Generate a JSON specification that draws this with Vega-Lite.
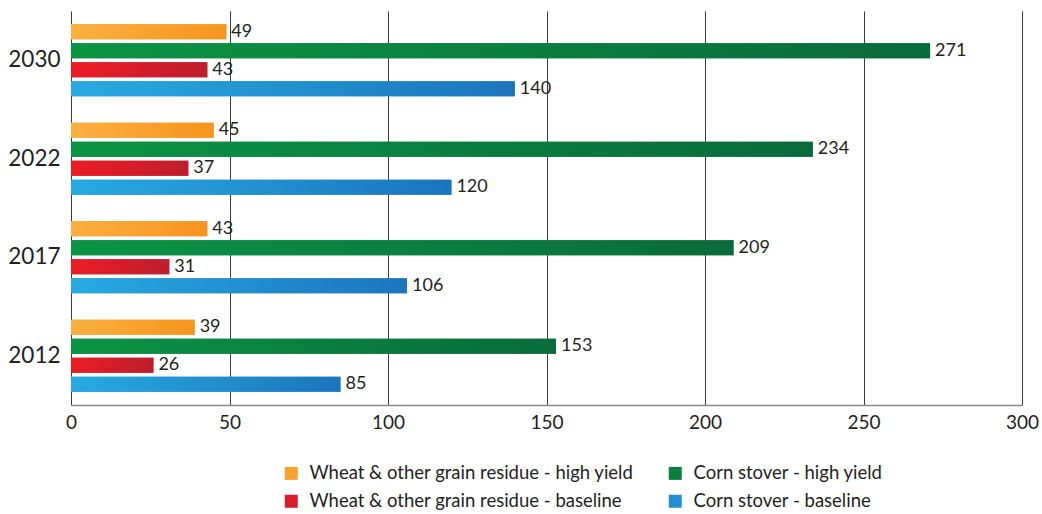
{
  "$schema": "https://vega.github.io/schema/vega-lite/v6.json",
  "width": 951,
  "height": 394,
  "autosize": "none",
  "padding": {"left": 71, "top": 11, "right": 20, "bottom": 109},
  "background": "white",
  "config": {
    "font": "Lato",
    "view": {"stroke": null}
  },
  "data": {
    "values": [
      {"year": "2030", "series": "Wheat & other grain residue - high yield", "value": 49},
      {"year": "2030", "series": "Corn stover - high yield", "value": 271},
      {"year": "2030", "series": "Wheat & other grain residue - baseline", "value": 43},
      {"year": "2030", "series": "Corn stover - baseline", "value": 140},
      {"year": "2022", "series": "Wheat & other grain residue - high yield", "value": 45},
      {"year": "2022", "series": "Corn stover - high yield", "value": 234},
      {"year": "2022", "series": "Wheat & other grain residue - baseline", "value": 37},
      {"year": "2022", "series": "Corn stover - baseline", "value": 120},
      {"year": "2017", "series": "Wheat & other grain residue - high yield", "value": 43},
      {"year": "2017", "series": "Corn stover - high yield", "value": 209},
      {"year": "2017", "series": "Wheat & other grain residue - baseline", "value": 31},
      {"year": "2017", "series": "Corn stover - baseline", "value": 106},
      {"year": "2012", "series": "Wheat & other grain residue - high yield", "value": 39},
      {"year": "2012", "series": "Corn stover - high yield", "value": 153},
      {"year": "2012", "series": "Wheat & other grain residue - baseline", "value": 26},
      {"year": "2012", "series": "Corn stover - baseline", "value": 85}
    ]
  },
  "encoding": {
    "y": {
      "field": "year", "type": "nominal",
      "sort": ["2030", "2022", "2017", "2012"],
      "scale": {"paddingInner": 0.24, "paddingOuter": 0.12},
      "axis": {"title": null, "ticks": false, "domain": false, "labelFontSize": 22.5, "labelColor": "#231f20", "labelPadding": 11, "grid": false}
    },
    "yOffset": {
      "field": "series", "type": "nominal",
      "scale": {"domain": ["Wheat & other grain residue - high yield", "Corn stover - high yield", "Wheat & other grain residue - baseline", "Corn stover - baseline"], "paddingInner": 0.22, "paddingOuter": 0.08}
    },
    "x": {
      "field": "value", "type": "quantitative",
      "scale": {"domain": [0, 300], "nice": false},
      "axis": {"title": null, "values": [0, 50, 100, 150, 200, 250, 300], "ticks": false, "labelFontSize": 19, "labelColor": "#231f20", "labelPadding": 8, "grid": true, "gridColor": "#3a3a3a", "gridWidth": 1, "gridOpacity": 1, "domainColor": "#888888", "domainWidth": 1.5, "labelFlush": false}
    }
  },
  "layer": [
    {
      "mark": {"type": "bar"},
      "encoding": {
        "color": {
          "field": "series", "type": "nominal",
          "scale": {"domain": ["Wheat & other grain residue - high yield", "Corn stover - high yield", "Wheat & other grain residue - baseline", "Corn stover - baseline"], "range": ["#f9a12e", "#0a7f3f", "#d81f29", "#2290d2"]},
          "legend": {"title": null, "orient": "none", "legendX": 211, "legendY": 453, "direction": "horizontal", "columns": 2, "symbolType": "square", "symbolSize": 169, "labelFontSize": 18.5, "labelColor": "#231f20", "rowPadding": 9, "columnPadding": 32, "labelOffset": 9, "symbolStrokeWidth": 0, "labelLimit": 500}
        }
      }
    },
    {
      "transform": [{"filter": "datum.series == 'Wheat & other grain residue - high yield'"}],
      "mark": {"type": "bar", "fill": {"gradient": "linear", "x1": 0, "y1": 0, "x2": 1, "y2": 0, "stops": [{"offset": 0, "color": "#fbb040"}, {"offset": 1, "color": "#f7941d"}]}},
      "encoding": {}
    },
    {
      "transform": [{"filter": "datum.series == 'Corn stover - high yield'"}],
      "mark": {"type": "bar", "fill": {"gradient": "linear", "x1": 0, "y1": 0, "x2": 1, "y2": 0, "stops": [{"offset": 0, "color": "#0b9444"}, {"offset": 1, "color": "#0a6b3a"}]}},
      "encoding": {}
    },
    {
      "transform": [{"filter": "datum.series == 'Wheat & other grain residue - baseline'"}],
      "mark": {"type": "bar", "fill": {"gradient": "linear", "x1": 0, "y1": 0, "x2": 1, "y2": 0, "stops": [{"offset": 0, "color": "#ed1c24"}, {"offset": 1, "color": "#be1e2d"}]}},
      "encoding": {}
    },
    {
      "transform": [{"filter": "datum.series == 'Corn stover - baseline'"}],
      "mark": {"type": "bar", "fill": {"gradient": "linear", "x1": 0, "y1": 0, "x2": 1, "y2": 0, "stops": [{"offset": 0, "color": "#27aae1"}, {"offset": 1, "color": "#1c75bc"}]}},
      "encoding": {}
    },
    {
      "mark": {"type": "text", "align": "left", "baseline": "middle", "dx": 5, "fontSize": 18, "color": "#231f20"},
      "encoding": {"text": {"field": "value", "type": "quantitative"}}
    }
  ]
}
